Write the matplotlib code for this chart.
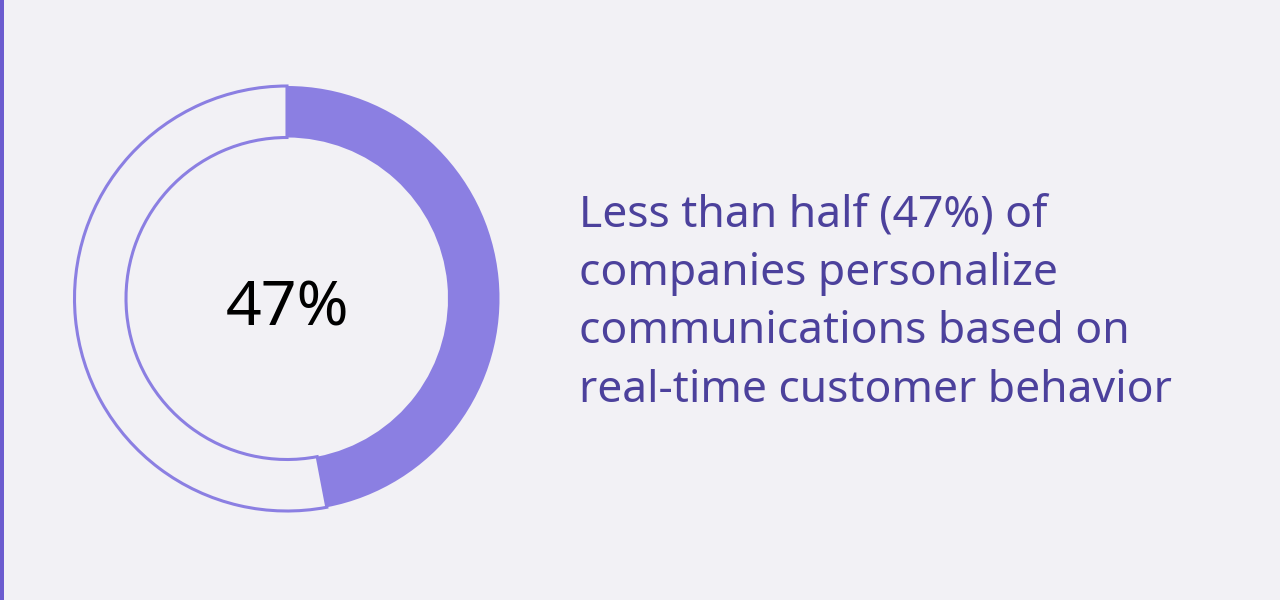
import matplotlib
matplotlib.use("Agg")
import matplotlib.pyplot as plt
from matplotlib.patches import Rectangle

values = [47, 53]
center_label = "47%"
caption_lines = [
    "Less than half (47%) of",
    "companies personalize",
    "communications based on",
    "real-time customer behavior",
]

BG = "#f2f1f5"
FILL = "#8b7fe2"
TEXT = "#4c419c"

fig = plt.figure(figsize=(12.8, 6), dpi=100, facecolor=BG)
ax = fig.add_axes([0, 0, 1, 1])
ax.set_facecolor(BG)

cx, cy, R, w = 287, 301.5, 212.5, 51.5
wedges, _ = ax.pie(values, startangle=90, counterclock=False, radius=R,
                   center=(cx, cy), frame=True,
                   wedgeprops=dict(width=w, linewidth=0))
wedges[0].set_facecolor(FILL)
wedges[0].set_edgecolor(FILL)
wedges[1].set_facecolor("none")
wedges[1].set_edgecolor(FILL)
wedges[1].set_linewidth(2.2)
ax.set_xlim(0, 1280)
ax.set_ylim(0, 600)
ax.set_aspect("equal")
ax.axis("off")

ax.text(cx + 1, 600 - 325, center_label, ha="center", va="baseline",
        fontsize=45, family="Noto Sans", color="black")

# left accent bar
ax.add_patch(Rectangle((0, 0), 4, 600, color="#6c5ccf", lw=0))

y0 = 600 - 226.5
for i, line in enumerate(caption_lines):
    ax.text(579, y0 - i * 58.4, line, ha="left", va="baseline", fontsize=32,
            family="Noto Sans", color=TEXT)

fig.savefig("out.png", dpi=100, facecolor=BG)
